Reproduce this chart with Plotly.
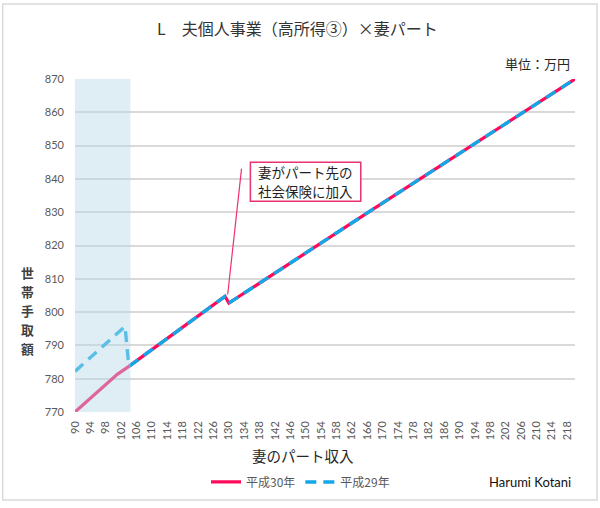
import plotly.graph_objects as go

# ---- data ----
h30_x = [90, 94, 101, 104, 129, 130, 166, 220]
h30_y = [770, 774.2, 781.3, 783.7, 804.7, 802.7, 829.8, 870]

h29_x = [90, 103, 104, 129, 130, 166, 220]
h29_y = [782.2, 795.7, 783.7, 804.7, 802.7, 829.8, 870]

x_tick_vals = [90, 94, 98, 102, 106, 110, 114, 118, 122, 126, 130, 134, 138, 142,
               146, 150, 154, 158, 162, 166, 170, 174, 178, 182, 186, 190, 194,
               198, 202, 206, 210, 214, 218]
x_tick_text = ["90", "94", "98", "102", "106", "110", "114", "118", "122", "126",
               "130", "134", "138", "142", "146", "150", "154", "158", "162", "166",
               "170", "174", "178", "182", "186", "190", "194", "198", "202", "206",
               "210", "214", "218"]
y_tick_vals = [770, 780, 790, 800, 810, 820, 830, 840, 850, 860, 870]

y_title_chars = ["世", "帯", "手", "取", "額"]
callout_lines = ["妻がパート先の", "社会保険に加入"]

shade_start = 90
shade_end = 104.4

JP = "Noto Sans CJK JP"
NUM = "Lato, Noto Sans CJK JP"

RED = "#ff0a5a"
BLUE = "#12a8e8"

fig = go.Figure()
fig.add_trace(go.Scatter(
    x=h30_x, y=h30_y, mode="lines", name="平成30年",
    line=dict(color=RED, width=3.2),
))
fig.add_trace(go.Scatter(
    x=h29_x, y=h29_y, mode="lines", name="平成29年",
    line=dict(color=BLUE, width=3.4, dash="11px,7px"),
))

# shaded region (drawn above the lines, semi-transparent)
fig.add_shape(type="rect", xref="x", yref="paper", x0=shade_start, x1=shade_end,
              y0=0, y1=1, fillcolor="rgba(182,217,231,0.45)", line_width=0,
              layer="above")

# leader line for the callout
fig.add_shape(type="line", xref="x", yref="y", x0=133.3, y0=843.1, x1=129.7, y1=805.3,
              line=dict(color="#f0306a", width=1.2))

# callout box
fig.add_shape(type="rect", xref="x", yref="y", x0=135.6, x1=164.3, y0=833.3, y1=845.0,
              line=dict(color="#e8336f", width=1.5), fillcolor="white", layer="above")

# outer border
fig.add_shape(type="rect", xref="paper", yref="paper",
              x0=-0.1446, x1=1.044, y0=-0.264, y1=1.2255,
              line=dict(color="#d9d9d9", width=1.5), fillcolor="rgba(0,0,0,0)")

annotations = [
    dict(text="L　夫個人事業（高所得③）×妻パート", xref="paper", yref="paper",
         x=0.444, y=1.154, showarrow=False, xanchor="center", yanchor="middle",
         font=dict(family=JP, size=16, color="#333333")),
    dict(text="単位：万円", xref="paper", yref="paper", x=0.994, y=1.048,
         showarrow=False, xanchor="right", yanchor="middle",
         font=dict(family=JP, size=13, color="#262626")),
    dict(text="妻のパート収入", xref="paper", yref="paper", x=0.456, y=-0.13,
         showarrow=False, xanchor="center", yanchor="middle",
         font=dict(family=JP, size=14.5, color="#262626")),
    dict(text="Harumi Kotani", xref="paper", yref="paper", x=0.996, y=-0.21,
         showarrow=False, xanchor="right", yanchor="middle",
         font=dict(family="Lato, Noto Sans", size=13, color="#111111")),
]
for i, ch in enumerate(y_title_chars):
    annotations.append(dict(text="<b>" + ch + "</b>", xref="paper", yref="paper",
                            x=-0.096, y=0.4196 - i * 0.057, showarrow=False,
                            xanchor="center", yanchor="middle", borderpad=0,
                            font=dict(family=JP, size=12.8, color="#404040")))
for i, line in enumerate(callout_lines):
    annotations.append(dict(text=line, xref="x", yref="y", x=150,
                            y=842.0 - i * 5.6, showarrow=False,
                            xanchor="center", yanchor="middle", borderpad=0,
                            font=dict(family=JP, size=13.5, color="#1f1f1f")))

fig.update_layout(
    width=600, height=508,
    margin=dict(l=75, r=25, t=79, b=92),
    paper_bgcolor="white", plot_bgcolor="white",
    showlegend=True,
    legend=dict(orientation="h", x=0.262, y=-0.21, xanchor="left", yanchor="middle",
                font=dict(family=JP, size=12, color="#595959"),
                itemwidth=30, bgcolor="rgba(0,0,0,0)"),
    annotations=annotations,
    xaxis=dict(range=[90, 220], tickmode="array", tickvals=x_tick_vals,
               ticktext=x_tick_text, tickangle=-90, showgrid=False, zeroline=False,
               showline=False, ticks="", ticklabelstandoff=6,
               tickfont=dict(family=NUM, size=11, color="#595959")),
    yaxis=dict(range=[770, 870], tickmode="array", tickvals=y_tick_vals,
               showgrid=True, gridcolor="#d9d9d9", gridwidth=1.5, zeroline=False,
               showline=False, ticks="", ticklabelstandoff=10,
               tickfont=dict(family=NUM, size=11, color="#595959")),
)

fig.write_html("out.html", config={"displayModeBar": False},
               post_script="document.body.style.margin='0';document.body.style.padding='0';")
